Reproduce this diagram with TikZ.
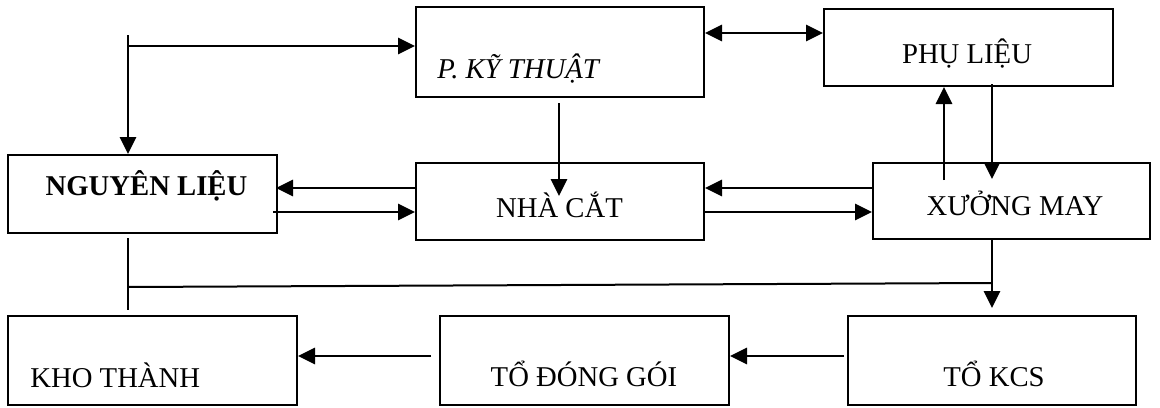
\documentclass[tikz,border=0pt]{standalone}
\usepackage{fontspec}
\setmainfont{Liberation Serif}
\usetikzlibrary{arrows.meta,calc}
\tikzset{
  box/.style={draw, line width=1pt, rectangle, inner sep=0pt},
  lbl/.style={inner sep=0pt, font=\fontsize{14.35}{17}\selectfont},
  tip/.tip={Triangle[length=8.5pt,width=8pt]},
  arr/.style={line width=1.4pt, -tip},
  dbl/.style={line width=1.4pt, tip-tip},
  plain/.style={line width=1pt}
}
\begin{document}
\begin{tikzpicture}[x=0.5pt, y=-0.5pt]
\useasboundingbox (0,0) rectangle (1160,407);

% departments
\node[box, minimum width=144pt, minimum height=45pt] (pkt) at (560,52) {};
\node[box, minimum width=144.5pt, minimum height=38.5pt] (pl) at (968.5,47.5) {};
\node[box, minimum width=134.5pt, minimum height=39pt] (nl) at (142.5,194) {};
\node[box, minimum width=144pt, minimum height=38.5pt] (nc) at (560,201.5) {};
\node[box, minimum width=138.5pt, minimum height=38pt] (xm) at (1011.5,201) {};
\node[box, minimum width=144.5pt, minimum height=44.5pt] (kt) at (152.5,360.5) {};
\node[box, minimum width=144.5pt, minimum height=44.5pt] (tdg) at (584.5,360.5) {};
\node[box, minimum width=144pt, minimum height=44.5pt] (kcs) at (992,360.5) {};

% labels
\node[lbl, anchor=base west, font=\fontsize{14.35}{17}\selectfont\itshape] (tpkt) at (437,78) {P. KỸ THUẬT};
\node[lbl, anchor=base] (tpl) at (967,63) {PHỤ LIỆU};
\node[lbl, anchor=base, font=\fontsize{14.35}{17}\selectfont\bfseries] (tnl) at (146.5,195) {NGUYÊN LIỆU};
\node[lbl, anchor=base] (tnc) at (559.5,217) {NHÀ CẮT};
\node[lbl, anchor=base] (txm) at (1015,215) {XƯỞNG MAY};
\node[lbl, anchor=base west] (tkt) at (30,387) {KHO THÀNH};
\node[lbl, anchor=base] (ttdg) at (584,386) {TỔ ĐÓNG GÓI};
\node[lbl, anchor=base] (tkcs) at (994,386) {TỔ KCS};

% free ends of the connectors
\coordinate (top) at (128,35);
\coordinate (split) at (128,46);
\coordinate (j1) at (128,287);
\coordinate (j2) at (992,283);

% top left feed to P. KY THUAT and NGUYEN LIEU
\draw[arr] (top) -- (top |- nl.north);
\draw[arr] (split) -- (split -| pkt.west);

% P. KY THUAT <-> PHU LIEU
\draw[dbl] (pkt.east |- 0,33) -- (pl.west |- 0,33);

% P. KY THUAT -> NHA CAT
\draw[arr] ($(pkt.south)+(-1,5)$) -- ($(nc.north)+(-1,34)$);

% NGUYEN LIEU <-> NHA CAT
\draw[arr] (nc.west |- 0,188) -- ($(nl.east |- 0,188)+(-2,0)$);
\draw[arr] ($(nl.east |- 0,212)+(-5,0)$) -- (nc.west |- 0,212);

% NHA CAT <-> XUONG MAY
\draw[arr] (xm.west |- 0,188) -- (nc.east |- 0,188);
\draw[arr] (nc.east |- 0,212) -- (xm.west |- 0,212);

% XUONG MAY <-> PHU LIEU
\draw[arr] (944,180) -- (pl.south -| 944,0);
\draw[arr] ($(pl.south -| 992,0)+(0,-3)$) -- (992,179);

% XUONG MAY -> TO KCS
\draw[arr] (kcs.north |- xm.south) -- ($(kcs.north)+(0,-7)$);

% finished goods line back to KHO THANH
\draw[plain] ($(nl.south -| j1)+(0,4)$) -- ($(kt.north -| j1)+(0,-5)$);
\draw[plain] (j1) -- (j2);

% TO KCS -> TO DONG GOI -> KHO THANH
\draw[arr] ($(kcs.west |- 0,356)+(-3,0)$) -- (tdg.east |- 0,356);
\draw[arr] ($(tdg.west |- 0,356)+(-8,0)$) -- (kt.east |- 0,356);
\end{tikzpicture}
\end{document}
